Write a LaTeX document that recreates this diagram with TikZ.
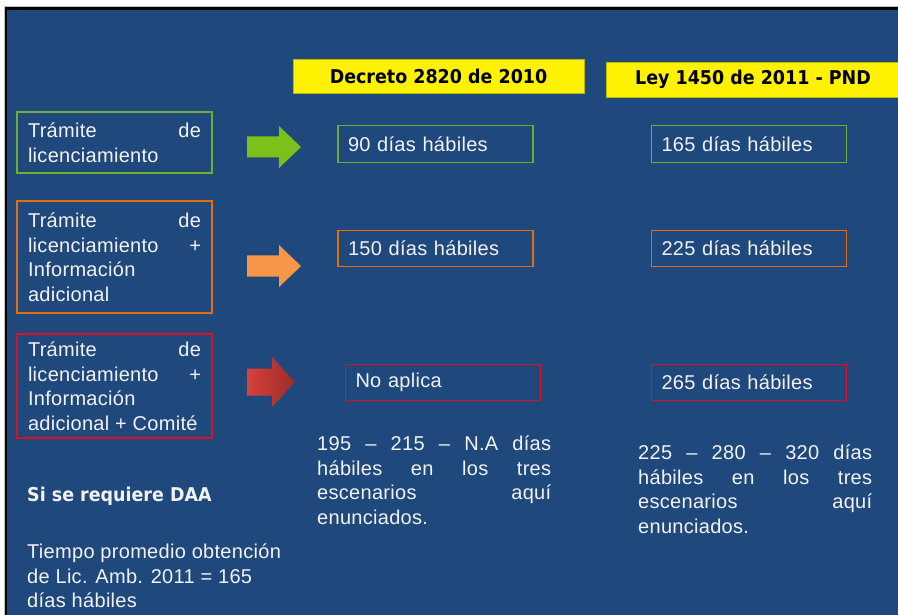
\documentclass[tikz,border=0pt]{standalone}
\usepackage{fontspec}
\setmainfont{Liberation Sans}[LetterSpace=1.5]
\newfontfamily\headfont[FakeStretch=0.92]{DejaVu Sans}
\usetikzlibrary{shadings}

\definecolor{bgblue}{HTML}{1F497D}
\definecolor{txt}{HTML}{F2F2F2}
\definecolor{yellowline}{HTML}{B8B800}
\definecolor{linegreen}{HTML}{6FAE2E}
\definecolor{lineorange}{HTML}{E46C0A}
\definecolor{linered}{HTML}{DC1020}
\definecolor{arrowgreen}{HTML}{7CC01A}
\definecolor{arroworange}{HTML}{F79646}
\definecolor{arrowredl}{HTML}{D8423C}
\definecolor{arrowredr}{HTML}{9C2B28}

\newcommand\bodytext{\fontsize{20}{24.5}\selectfont\hyphenpenalty=10000 \exhyphenpenalty=10000 \tolerance=10000 \emergencystretch=2em }
\newcommand\headtext{\headfont\bfseries\fontsize{19}{23}\selectfont}

\tikzset{
    headbox/.style={fill=yellow, draw=yellowline, line width=0.6pt, minimum height=34pt, text=black, font=\headtext, inner sep=0pt},
    casebox/.style={draw=#1, line width=1.2pt, text width=173pt, inner xsep=11pt, align=justify, text=txt, font=\bodytext},
    daybox/.style={draw=#1, line width=1.2pt, text width=175pt, inner xsep=10pt, inner ysep=0pt, minimum height=36.5pt, align=left, text=txt, font=\bodytext},
    note/.style={text width=234pt, inner sep=0pt, align=justify, text=txt, font=\bodytext},
}

\begin{document}
\begin{tikzpicture}[x=1pt,y=-1pt]
    \useasboundingbox (0,0) rectangle (898,615);
    % slide frame
    \fill[white] (0,0) rectangle (898,615);
    \fill[gray!50] (4,6.5) rectangle (898,615);
    \fill[black] (4.5,7.5) rectangle (898,615);
    \fill[bgblue] (7,10) rectangle (898,615);

    % column titles
    \node[headbox, minimum width=291pt] (decreto) at (438.5,76) {Decreto 2820 de 2010};
    \node[headbox, minimum width=294pt, minimum height=35pt] (ley) at (753,79.5) {Ley 1450 de 2011 - PND};

    % cases
    \node[casebox=linegreen, minimum height=61pt] (caso1) at (114.5,142.5) {Trámite de\linebreak licenciamiento};
    \node[casebox=lineorange, minimum height=112pt] (caso2) at (114.5,257) {Trámite de\linebreak licenciamiento +\linebreak Información\linebreak adicional};
    \node[casebox=linered, minimum height=104pt] (caso3) at (114.5,386) {Trámite de\linebreak licenciamiento +\linebreak Información\linebreak adicional + Comité};

    % arrows
    \foreach \ya/\col in {147/arrowgreen,266/arroworange}{
            \fill[\col] (247,\ya-10.5) --++ (32,0) --++ (0,-10.5) -- (301,\ya) -- (279,\ya+21) --++ (0,-10.5) --++ (-32,0) -- cycle;
        }
    \shade[left color=arrowredl, right color=arrowredr] (247,368.5) -- (272,368.5) -- (272,357) -- (295,382) -- (272,407) -- (272,395.5) -- (247,395.5) -- cycle;

    % Decreto 2820
    \node[daybox=linegreen] (d1) at (435.5,144) {90 días hábiles};
    \node[daybox=lineorange] (d2) at (435.5,248.5) {150 días hábiles};
    \node[daybox=linered] (d3) at (443,382.5) {No aplica};

    % Ley 1450
    \node[daybox=linegreen] (l1) at (749,144) {165 días hábiles};
    \node[daybox=lineorange] (l2) at (749,248.5) {225 días hábiles};
    \node[daybox=linered] (l3) at (749,382.5) {265 días hábiles};

    % totals
    \node[note, anchor=north west] (totald) at (317,436) {195 -- 215 -- N.A días\linebreak hábiles en los tres\linebreak escenarios aquí\linebreak enunciados.};
    \node[note, anchor=north west] (totall) at (638,445) {225 -- 280 -- 320 días\linebreak hábiles en los tres\linebreak escenarios aquí\linebreak enunciados.};

    \node[anchor=base west, inner sep=0pt, text=txt, font=\headtext] (daa) at (27,501) {Si se requiere DAA};
    \node[anchor=north west, inner sep=0pt, align=left, text=txt, font=\bodytext] (promedio) at (27,544) {Tiempo promedio obtención\\de Lic. Amb. 2011 = 165\\días hábiles};
\end{tikzpicture}
\end{document}
